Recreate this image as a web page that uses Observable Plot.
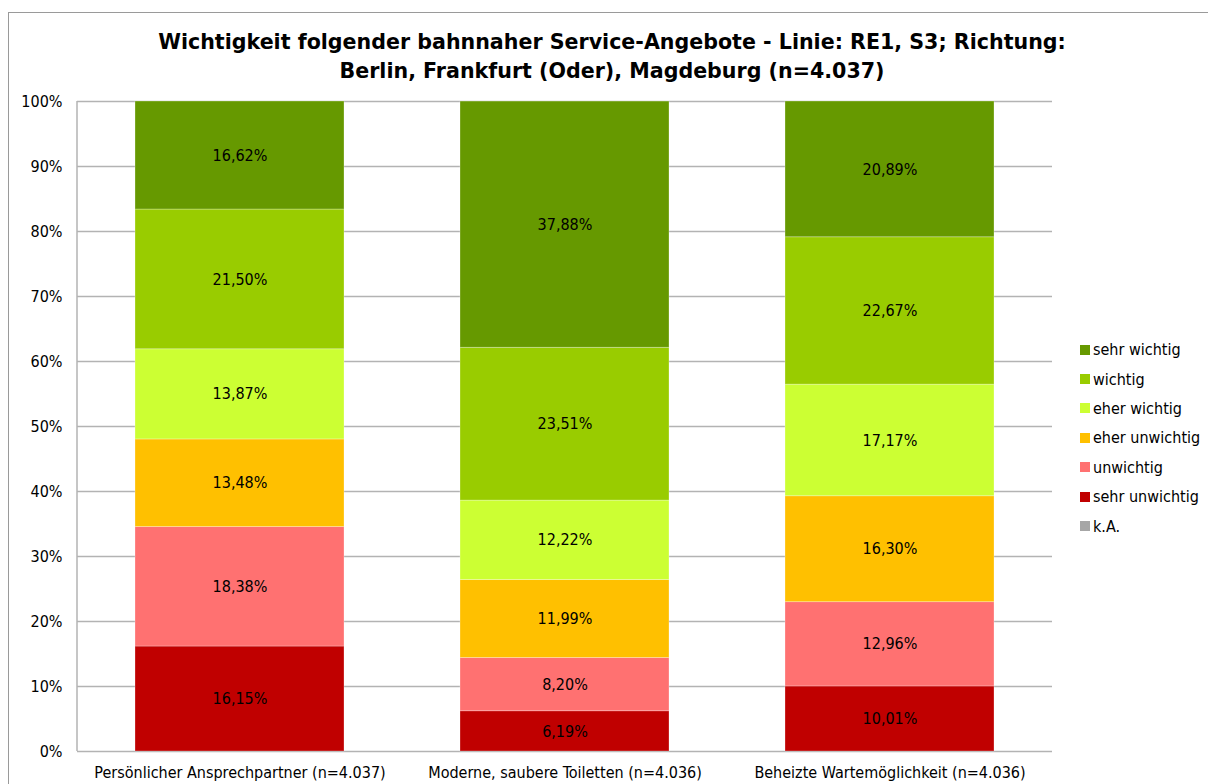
<!DOCTYPE html>
<html>
<head>
<meta charset="utf-8">
<script src="https://cdn.jsdelivr.net/npm/d3@7"></script>
<script src="https://cdn.jsdelivr.net/npm/@observablehq/plot@0.6"></script>
<style>
  html, body { margin: 0; padding: 0; background: #fff; }
  #wrap { position: relative; width: 1208px; height: 784px; overflow: hidden; font-family: "DejaVu Sans Condensed", "DejaVu Sans", sans-serif; }
  #frame { position: absolute; left: 8px; top: 12px; width: 1300px; height: 900px; border: 1.5px solid #9a9a9a; box-sizing: border-box; }
  #title { position: absolute; left: 0; width: 1224px; top: 28px; text-align: center; font-family: "DejaVu Sans", sans-serif; font-weight: bold; font-size: 20.6px; line-height: 29px; color: #000; }
  #chart { position: absolute; left: 0; top: 0; }
  #legend { position: absolute; left: 1080px; top: 335px; font-size: 16px; color: #000; }
  #legend .item { height: 29.4px; display: flex; align-items: center; white-space: nowrap; }
  #legend .sw { width: 10px; height: 10px; margin-right: 3px; display: inline-block; }
</style>
</head>
<body>
<div id="wrap">
  <div id="frame"></div>
  <div id="title">Wichtigkeit folgender bahnnaher Service-Angebote - Linie: RE1, S3; Richtung:<br>Berlin, Frankfurt (Oder), Magdeburg (n=4.037)</div>
  <div id="chart"></div>
  <div id="legend"></div>
</div>
<script>
const categories = [
  "Persönlicher Ansprechpartner (n=4.037)",
  "Moderne, saubere Toiletten (n=4.036)",
  "Beheizte Wartemöglichkeit (n=4.036)"
];
// stacking order bottom -> top
const levels = ["k.A.", "sehr unwichtig", "unwichtig", "eher unwichtig", "eher wichtig", "wichtig", "sehr wichtig"];
const colors = ["#a6a6a6", "#c00000", "#ff7171", "#ffc000", "#ccff33", "#99cc00", "#669900"];

const kA            = [0, 0, 0];
const sehrUnwichtig = [16.15, 6.19, 10.01];
const unwichtig     = [18.38, 8.20, 12.96];
const eherUnwichtig = [13.48, 11.99, 16.30];
const eherWichtig   = [13.87, 12.22, 17.17];
const wichtig       = [21.50, 23.51, 22.67];
const sehrWichtig   = [16.62, 37.88, 20.89];

const yTicks = [0, 10, 20, 30, 40, 50, 60, 70, 80, 90, 100];

const series = [kA, sehrUnwichtig, unwichtig, eherUnwichtig, eherWichtig, wichtig, sehrWichtig];
const data = [];
series.forEach((vals, i) => {
  vals.forEach((v, j) => data.push({cat: categories[j], level: levels[i], value: v}));
});

const fmt = v => d3.format(".2f")(v).replace(".", ",") + "%";

const W = 1208, H = 784;
const shown = data.filter(d => d.value > 0);
const chart = Plot.plot({
  width: W,
  height: H,
  marginLeft: 77,
  marginRight: 156,
  marginTop: 101,
  marginBottom: 33,
  style: {fontFamily: "'DejaVu Sans Condensed', 'DejaVu Sans', sans-serif", fontSize: "16px", color: "#000", background: "transparent"},
  x: {domain: categories, paddingInner: 0.357, paddingOuter: 0.1785, label: null, tickSize: 0, tickPadding: 15},
  y: {domain: [0, 100], ticks: yTicks, tickFormat: d => d + "%", label: null, tickSize: 0, tickPadding: 15},
  color: {domain: levels, range: colors},
  marks: [
    Plot.ruleY(yTicks, {stroke: "#b3b3b3", strokeWidth: 1.5, strokeOpacity: 1}),
    (index, scales, values, dims) => {
      const g = d3.create("svg:line")
        .attr("x1", dims.marginLeft).attr("x2", dims.marginLeft)
        .attr("y1", dims.marginTop).attr("y2", dims.height - dims.marginBottom)
        .attr("stroke", "#b3b3b3").attr("stroke-width", 1.5);
      return g.node();
    },
    Plot.barY(shown, Plot.stackY({x: "cat", y: "value", z: "level", fill: "level", order: levels, stroke: "#fff", strokeOpacity: 0.35, strokeWidth: 0.8})),
    Plot.text(shown, Plot.stackY({x: "cat", y: "value", z: "level", order: levels, text: d => fmt(d.value), fill: "#000", fontSize: 16})),
    Plot.axisX({tickSize: 0, tickPadding: 15, fontSize: 16}),
    Plot.axisY({ticks: yTicks, tickFormat: d => d + "%", tickSize: 0, tickPadding: 15, fontSize: 16})
  ]
});
document.getElementById("chart").appendChild(chart);

const legend = document.getElementById("legend");
levels.slice().reverse().forEach((l, i) => {
  const c = colors[levels.indexOf(l)];
  const item = document.createElement("div");
  item.className = "item";
  item.innerHTML = `<span class="sw" style="background:${c}"></span><span>${l}</span>`;
  legend.appendChild(item);
});
</script>
</body>
</html>
